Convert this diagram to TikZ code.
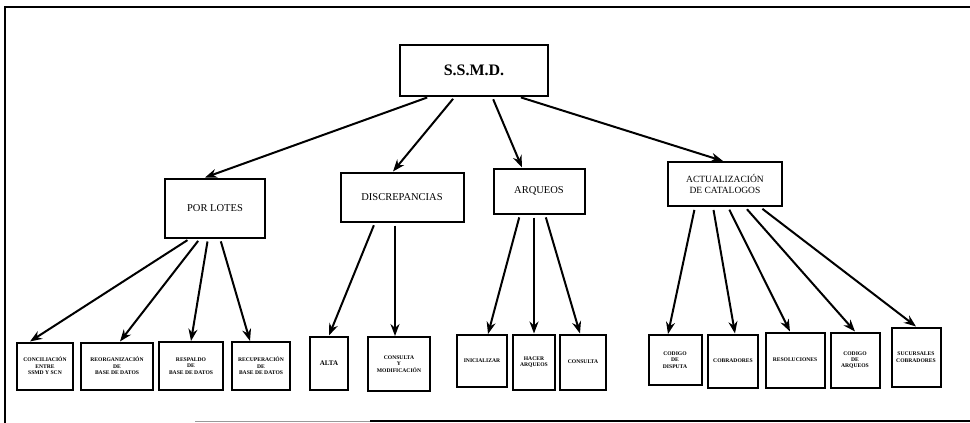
\documentclass[tikz,border=0pt]{standalone}
\usepackage{fontspec}
\setmainfont{Liberation Serif}
\usetikzlibrary{arrows.meta}

\begin{document}
\begin{tikzpicture}[x=1pt,y=-1pt,
    caja/.style={draw, line width=2pt, inner sep=1pt, align=center},
    hoja/.style={caja, font=\bfseries\fontsize{5.6}{6.4}\selectfont},
    flecha/.style={-{Stealth[length=12pt,width=9pt]}, line width=2pt, shorten <=3pt}]
         \useasboundingbox (0,0) rectangle (970,423);
         % marco
         \draw [line width=1.6pt] (5,423) -- (5,7) -- (970,7);
         \draw [line width=1pt, black!40] (195,421) -- (370,421);
         \draw [line width=1.6pt] (370,421) -- (970,421);
         % raiz y primer nivel
         \node [caja, minimum width=148pt, minimum height=51pt, font=\bfseries\fontsize{16}{19}\selectfont] (ssmd) at (474,70) {S.S.M.D.};
         \node [caja, minimum width=100pt, minimum height=59pt, font=\fontsize{10.5}{12}\selectfont] (lotes) at (215,208) {POR LOTES};
         \node [caja, minimum width=123pt, minimum height=49pt, font=\fontsize{10.5}{12}\selectfont] (discr) at (402,197) {DISCREPANCIAS};
         \node [caja, minimum width=91pt, minimum height=45pt, font=\fontsize{10.5}{12}\selectfont] (arq) at (539,191) {ARQUEOS};
         \node [caja, minimum width=114pt, minimum height=44pt, font=\fontsize{9.5}{11}\selectfont] (act) at (725,184) {ACTUALIZACIÓN\\DE CATALOGOS};
         % hojas
         \node [hoja, minimum width=56pt, minimum height=47pt] (conc) at (45,366) {CONCILIACIÓN\\ENTRE\\SSMD Y SCN};
         \node [hoja, minimum width=72pt, minimum height=47pt] (reorg) at (117,366) {REORGANIZACIÓN\\DE\\BASE DE DATOS};
         \node [hoja, minimum width=64pt, minimum height=48pt] (resp) at (191,366) {RESPALDO\\DE\\BASE DE DATOS};
         \node [hoja, minimum width=58pt, minimum height=48pt] (recup) at (261,366) {RECUPERACIÓN\\DE\\BASE DE DATOS};
         \node [hoja, minimum width=38pt, minimum height=53pt, font=\bfseries\fontsize{7}{8}\selectfont] (alta) at (329,363) {ALTA};
         \node [hoja, minimum width=62pt, minimum height=54pt] (cons) at (399,364) {CONSULTA\\Y\\MODIFICACIÓN};
         \node [hoja, minimum width=50pt, minimum height=52pt] (inic) at (482,361) {INICIALIZAR};
         \node [hoja, minimum width=42pt, minimum height=55pt] (hacer) at (534,362) {HACER\\ARQUEOS};
         \node [hoja, minimum width=46pt, minimum height=55pt] (consu) at (583,362) {CONSULTA};
         \node [hoja, minimum width=53pt, minimum height=50pt] (cdisp) at (675,360) {CODIGO\\DE\\DISPUTA};
         \node [hoja, minimum width=50pt, minimum height=53pt] (cobr) at (733,361) {COBRADORES};
         \node [hoja, minimum width=59pt, minimum height=55pt] (resol) at (795,360) {RESOLUCIONES};
         \node [hoja, minimum width=49pt, minimum height=55pt] (carq) at (855,360) {CODIGO\\DE\\ARQUEOS};
         \node [hoja, minimum width=49pt, minimum height=59pt] (sucur) at (916,357) {SUCURSALES\\COBRADORES};
         % flechas desde la raiz
         \draw [flecha] ([xshift=-44pt]ssmd.south) -- ([xshift=-10pt]lotes.north);
         \draw [flecha] ([xshift=-19pt]ssmd.south) -- ([xshift=-9pt]discr.north);
         \draw [flecha] ([xshift=18pt]ssmd.south) -- ([xshift=-17pt]arq.north);
         \draw [flecha] ([xshift=44pt]ssmd.south) -- ([xshift=-2pt]act.north);
         % por lotes
         \draw [flecha] ([xshift=-25pt]lotes.south) -- ([xshift=-15pt]conc.north);
         \draw [flecha] ([xshift=-15pt]lotes.south) -- ([xshift=3pt]reorg.north);
         \draw [flecha] ([xshift=-7pt]lotes.south) -- (resp.north);
         \draw [flecha] ([xshift=5pt]lotes.south) -- ([xshift=-11pt]recup.north);
         % discrepancias
         \draw [flecha] ([xshift=-27pt]discr.south) -- (alta.north);
         \draw [flecha] ([xshift=-7pt]discr.south) -- ([xshift=-4pt]cons.north);
         % arqueos
         \draw [flecha] ([xshift=-19pt]arq.south) -- ([xshift=6pt]inic.north);
         \draw [flecha] ([xshift=-5pt]arq.south) -- (hacer.north);
         \draw [flecha] ([xshift=6pt]arq.south) -- ([xshift=-3pt]consu.north);
         % catalogos
         \draw [flecha] ([xshift=-30pt]act.south) -- ([xshift=-7pt]cdisp.north);
         \draw [flecha] ([xshift=-12pt]act.south) -- ([xshift=2pt]cobr.north);
         \draw [flecha] ([xshift=3pt]act.south) -- ([xshift=-5pt]resol.north);
         \draw [flecha] ([xshift=20pt]act.south) -- (carq.north);
         \draw [flecha] ([xshift=35pt]act.south) -- (sucur.north);
\end{tikzpicture}
\end{document}
